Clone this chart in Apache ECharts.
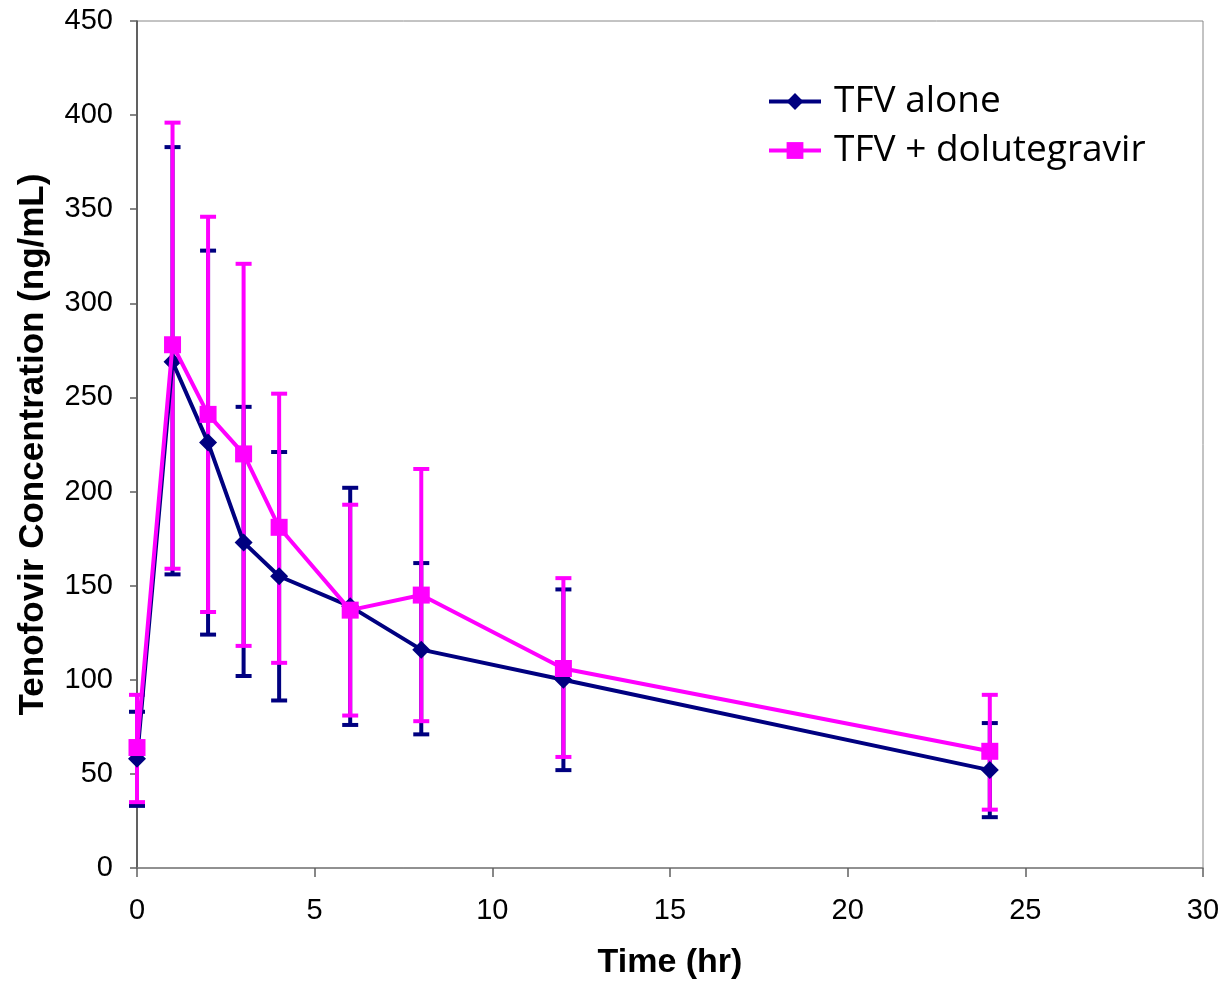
<!DOCTYPE html>
<html>
<head>
<meta charset="utf-8">
<script src="https://cdn.jsdelivr.net/npm/echarts@6/dist/echarts.min.js"></script>
<style>
  html, body { margin: 0; padding: 0; background: #fff; }
  #chart { width: 1224px; height: 985px; }
</style>
</head>
<body>
<div id="chart"></div>
<script>
// time points (hr)
const times = [0, 1, 2, 3, 4, 6, 8, 12, 24];

// TFV alone
const aloneMean = [58, 269, 226, 173, 155, 139, 116, 100, 52];
const aloneHigh = [83, 383, 328, 245, 221, 202, 162, 148, 77];
const aloneLow = [33, 156, 124, 102, 89, 76, 71, 52, 27];

// TFV + dolutegravir
const dtgMean = [64, 278, 241, 220, 181, 137, 145, 106, 62];
const dtgHigh = [92, 396, 346, 321, 252, 193, 212, 154, 92];
const dtgLow = [35, 159, 136, 118, 109, 81, 78, 59, 31];

const navy = '#000080';
const pink = '#ff00ff';

function pairs(ys) {
  return times.map((t, i) => [t, ys[i]]);
}

function errData(lo, hi) {
  return times.map((t, i) => [t, lo[i], hi[i]]);
}

// vertical bar with caps at both ends
function errRender(color) {
  return function (params, api) {
    const x = api.value(0);
    const lo = api.coord([x, api.value(1)]);
    const hi = api.coord([x, api.value(2)]);
    const half = 8;
    const style = { stroke: color, lineWidth: 4 };
    return {
      type: 'group',
      children: [
        { type: 'line', shape: { x1: lo[0], y1: lo[1], x2: hi[0], y2: hi[1] }, style: style },
        { type: 'line', shape: { x1: hi[0] - half, y1: hi[1], x2: hi[0] + half, y2: hi[1] }, style: style },
        { type: 'line', shape: { x1: lo[0] - half, y1: lo[1], x2: lo[0] + half, y2: lo[1] }, style: style }
      ]
    };
  };
}

const chart = echarts.init(document.getElementById('chart'));

const axisFont = { color: '#000', fontSize: 29, fontFamily: 'Liberation Sans, Arial, sans-serif' };

chart.setOption({
  animation: false,
  grid: {
    left: 137, right: 21, top: 21, bottom: 116,
    show: true, borderColor: '#888', borderWidth: 1, backgroundColor: '#fff'
  },
  legend: {
    orient: 'vertical',
    left: 762,
    top: 78,
    itemWidth: 52,
    itemHeight: 21,
    itemGap: 12,
    lineStyle: { width: 4 },
    textStyle: { fontSize: 37, color: '#000', fontFamily: 'Open Sans, Liberation Sans, sans-serif', padding: [0, 0, 0, 8] },
    data: ['TFV alone', 'TFV + dolutegravir']
  },
  xAxis: {
    type: 'value',
    min: 0, max: 30, interval: 5,
    name: 'Time (hr)',
    nameLocation: 'middle',
    nameGap: 78,
    nameTextStyle: { fontSize: 34, fontWeight: 'bold', color: '#000', fontFamily: 'Liberation Sans, Arial, sans-serif' },
    splitLine: { show: false },
    axisLine: { onZero: false, lineStyle: { color: '#808080', width: 1.5 } },
    axisTick: { inside: false, length: 9, lineStyle: { color: '#606060', width: 1.5 } },
    axisLabel: Object.assign({ margin: 28 }, axisFont)
  },
  yAxis: {
    type: 'value',
    min: 0, max: 450, interval: 50,
    name: 'Tenofovir Concentration (ng/mL)',
    nameLocation: 'middle',
    nameGap: 86,
    nameTextStyle: { fontSize: 35, fontWeight: 'bold', color: '#000', fontFamily: 'Liberation Sans, Arial, sans-serif' },
    splitLine: { show: false },
    axisLine: { show: true, lineStyle: { color: '#404040', width: 1.5 } },
    axisTick: { show: true, inside: false, length: 7, lineStyle: { color: '#606060', width: 1.5 } },
    axisLabel: Object.assign({ margin: 24 }, axisFont)
  },
  series: [
    {
      name: 'aloneErr',
      type: 'custom',
      renderItem: errRender(navy),
      data: errData(aloneLow, aloneHigh),
      z: 1
    },
    {
      name: 'dtgErr',
      type: 'custom',
      renderItem: errRender(pink),
      data: errData(dtgLow, dtgHigh),
      z: 2
    },
    {
      name: 'TFV alone',
      type: 'line',
      data: pairs(aloneMean),
      symbol: 'diamond',
      symbolSize: 18,
      lineStyle: { color: navy, width: 4 },
      itemStyle: { color: navy },
      z: 3
    },
    {
      name: 'TFV + dolutegravir',
      type: 'line',
      data: pairs(dtgMean),
      symbol: 'rect',
      symbolSize: 17,
      lineStyle: { color: pink, width: 4 },
      itemStyle: { color: pink },
      z: 4
    }
  ]
});
</script>
</body>
</html>
